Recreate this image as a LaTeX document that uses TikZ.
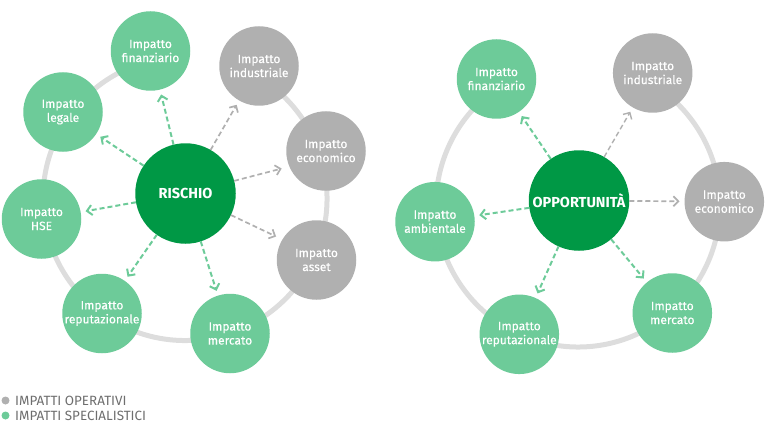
\documentclass[tikz,border=0pt]{standalone}
\usepackage{fontspec}
\setmainfont{Fira Sans}
\newfontfamily\medio[FakeBold=0.25]{Fira Sans}
\usetikzlibrary{arrows.meta, positioning}
\definecolor{verdescuro}{HTML}{009845}
\definecolor{verde}{HTML}{6DCB99}
\definecolor{grigio}{HTML}{B0B0B0}
\definecolor{anello}{HTML}{DDDDDD}
\definecolor{testo}{HTML}{6E6E6E}
\tikzset{
  impatto/.style={circle, fill=#1, minimum size=79.5pt, inner sep=0pt, outer sep=0pt, align=center, text=white, font=\fontsize{12}{14}\medio, execute at begin node={\rule{0pt}{15pt}}},
  centro/.style={circle, fill=verdescuro, minimum size=100.5pt, inner sep=0pt, outer sep=0pt, text=white, font=\fontsize{14.5}{16}\selectfont\bfseries},
  ring/.style={anello, line width=5pt},
  freccia/.style={#1, dash pattern=on 5pt off 3pt, -{Straight Barb[length=5pt, width=10pt]}, shorten >=5pt},
  pallino/.style={circle, fill=#1, minimum size=8pt, inner sep=0pt, outer sep=0pt},
  voce/.style={right=5.5pt, inner sep=0pt, text=testo, font=\fontsize{13.4}{14}\selectfont}
}
\begin{document}
\begin{tikzpicture}[x=1pt, y=-1pt]
\useasboundingbox (0,0) rectangle (765,433);

% rischio
\coordinate (ringR) at (185,198.5);
\draw[ring] ([shift={(103:142pt)}]ringR) arc[start angle=103, end angle=421, radius=142pt];
\node[centro] (rischio) at (185.5,193.5) {RISCHIO};
\node[impatto=verde] (finR) at (150.5,51) {Impatto\\finanziario};
\node[impatto=grigio] (indR) at (259,66) {Impatto\\industriale};
\node[impatto=grigio] (ecoR) at (326,151) {Impatto\\economico};
\node[impatto=grigio] (assR) at (316.5,260) {Impatto\\asset};
\node[impatto=verde] (merR) at (230,333.5) {Impatto\\mercato};
\node[impatto=verde] (repR) at (102,313.5) {Impatto\\reputazionale};
\node[impatto=verde] (hseR) at (41.5,219) {Impatto\\HSE};
\node[impatto=verde] (legR) at (63,112) {Impatto\\legale};
\draw[freccia=verde, line width=2pt] (rischio) -- (finR);
\draw[freccia=verde, line width=2pt] (rischio) -- (legR);
\draw[freccia=verde, line width=2pt] (rischio) -- (hseR);
\draw[freccia=verde, line width=2pt] (rischio) -- (repR);
\draw[freccia=verde, line width=2pt] (rischio) -- (merR);
\draw[freccia=grigio, line width=1.7pt] (rischio) -- (indR);
\draw[freccia=grigio, line width=1.7pt, shorten >=8pt] (rischio) -- (ecoR.203);
\draw[freccia=grigio, line width=1.7pt, shorten >=7pt] (rischio) -- (assR.149);

% opportunita
\coordinate (ringO) at (578,205);
\draw[ring] ([shift={(123:142pt)}]ringO) arc[start angle=123, end angle=420, radius=142pt];
\node[centro] (opportunita) at (579,200.5) {OPPORTUNITÀ};
\node[impatto=verde] (finO) at (496.5,79) {Impatto\\finanziario};
\node[impatto=grigio] (indO) at (652.7,73) {Impatto\\industriale};
\node[impatto=grigio] (ecoO) at (724.3,201.7) {Impatto\\economico};
\node[impatto=verde] (merO) at (672.3,313) {Impatto\\mercato};
\node[impatto=verde] (repO) at (519.3,334.3) {Impatto\\reputazionale};
\node[impatto=verde] (ambO) at (435,221.7) {Impatto\\ambientale};
\draw[freccia=verde, line width=2pt] (opportunita) -- (finO);
\draw[freccia=verde, line width=2pt] (opportunita) -- (ambO);
\draw[freccia=verde, line width=2pt] (opportunita) -- (repO);
\draw[freccia=verde, line width=2pt] (opportunita) -- (merO);
\draw[freccia=grigio, line width=1.4pt] (opportunita) -- (indO);
\draw[freccia=grigio, line width=1.7pt] (opportunita) -- (ecoO);

% legenda
\node[pallino=grigio] (opLeg) at (5.5,400.5) {};
\node[voce] (opTxt) at (opLeg.east) {IMPATTI OPERATIVI};
\node[pallino=verde] (spLeg) at (5.5,415.5) {};
\node[voce] (spTxt) at (spLeg.east) {IMPATTI SPECIALISTICI};
\end{tikzpicture}
\end{document}
